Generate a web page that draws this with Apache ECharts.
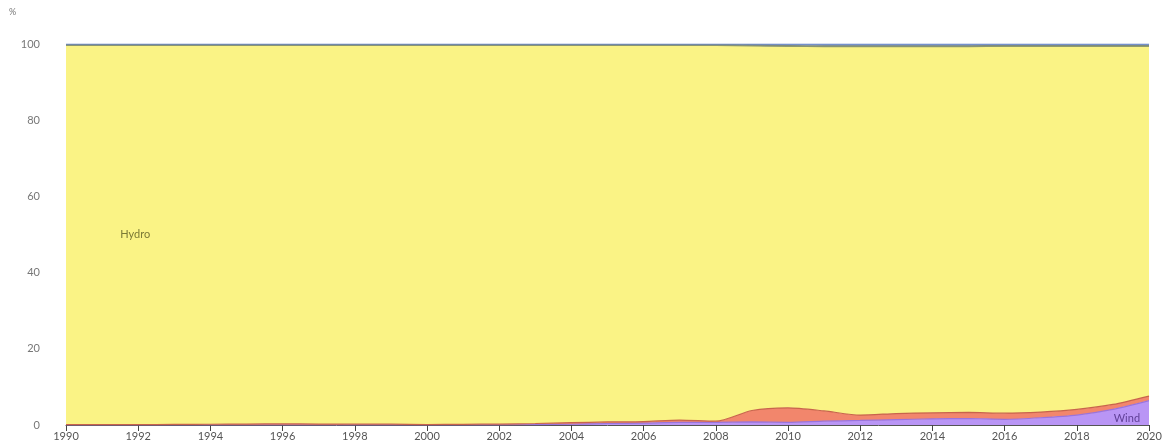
<!DOCTYPE html>
<html><head><meta charset="utf-8">
<script src="https://cdn.jsdelivr.net/npm/echarts@6/dist/echarts.min.js"></script>
<style>html,body{margin:0;padding:0;background:#fff}#c{width:1171px;height:446px}</style>
</head><body><div id="c"></div>
<script>
const years = ['1990','1991','1992','1993','1994','1995','1996','1997','1998','1999','2000','2001','2002','2003','2004','2005','2006','2007','2008','2009','2010','2011','2012','2013','2014','2015','2016','2017','2018','2019','2020'];
const yTicks = [0,20,40,60,80,100];
const wind = [0,0,0,0,0,0,0,0,0.01,0.01,0.02,0.02,0.05,0.1,0.2,0.4,0.5,0.7,0.7,0.8,0.7,1.0,1.2,1.4,1.6,1.7,1.5,1.9,2.6,4.1,6.4];
const gas = [0.1,0.1,0.1,0.15,0.2,0.25,0.3,0.25,0.2,0.2,0.1,0.15,0.2,0.3,0.4,0.4,0.4,0.6,0.3,3.0,3.8,2.7,1.4,1.6,1.6,1.6,1.6,1.5,1.5,1.3,1.2];
const hydro = [99.5,99.5,99.5,99.45,99.4,99.35,99.3,99.35,99.39,99.39,99.48,99.43,99.35,99.2,99.0,98.8,98.7,98.3,98.6,95.7,94.9,95.6,96.7,96.3,96.1,96.0,96.3,96.0,95.3,94.0,91.8];
const coal = [0.2,0.2,0.2,0.2,0.2,0.2,0.2,0.2,0.2,0.2,0.2,0.2,0.2,0.2,0.2,0.2,0.2,0.2,0.2,0.2,0.2,0.2,0.2,0.2,0.2,0.2,0.2,0.2,0.2,0.2,0.2];
const bio = [0.2,0.2,0.2,0.2,0.2,0.2,0.2,0.2,0.2,0.2,0.2,0.2,0.2,0.2,0.2,0.2,0.2,0.2,0.2,0.3,0.4,0.5,0.5,0.5,0.5,0.5,0.4,0.4,0.4,0.4,0.4];
const labels = [{name:'Hydro', year:'1992', value:50}, {name:'Wind', year:'2019', value:1.8}];

const chart = echarts.init(document.getElementById('c'));
function mk(name, data, fill, line){
  return {name, type:'line', stack:'t', data, smooth:0.25, symbol:'none',
    lineStyle:{color:line, width:1.2}, areaStyle:{color:fill, opacity:1}, itemStyle:{color:fill}};
}
chart.setOption({
  animation:false,
  grid:{left:66, right:22, top:44, bottom:21},
  xAxis:{type:'category', data:years, boundaryGap:false,
    axisLine:{lineStyle:{color:'#555', width:1}},
    axisTick:{alignWithLabel:true, interval:1, length:6, lineStyle:{color:'#444'}},
    axisLabel:{interval:1, color:'#555', fontSize:11, margin:6, fontFamily:'Lato'},
    splitLine:{show:false}},
  yAxis:{type:'value', min:yTicks[0], max:yTicks[yTicks.length-1], interval:20,
    axisLine:{show:false}, axisTick:{show:false}, splitLine:{show:false},
    axisLabel:{color:'#777', fontSize:11, margin:26, fontFamily:'Lato'}},
  graphic:[{type:'text', left:9, top:8, style:{text:'%', fill:'#777', font:'9px Lato'}}],
  series:[
    mk('Wind', wind, '#b995f5', '#9a74dc'),
    mk('Natural gas', gas, '#f2866c', '#c8644c'),
    mk('Hydro', hydro, '#faf385', '#8f9a6e'),
    mk('Coal', coal, '#8f9d88', '#7f8c7a'),
    mk('Biofuels', bio, '#8aa2d6', '#5f7fc4'),
    {type:'scatter', symbolSize:0, silent:true, z:10,
      data:[[labels[0].year, labels[0].value]],
      label:{show:true, position:'inside', formatter:labels[0].name, color:'#5a5a20', fontSize:11, fontFamily:'Lato', offset:[-3,0]}},
    {type:'scatter', symbolSize:0, silent:true, z:10,
      data:[[labels[1].year, labels[1].value]],
      label:{show:true, position:'inside', formatter:labels[1].name, color:'#4a2a80', fontSize:11, fontFamily:'Lato', offset:[14,0]}}
  ]
});
</script></body></html>
